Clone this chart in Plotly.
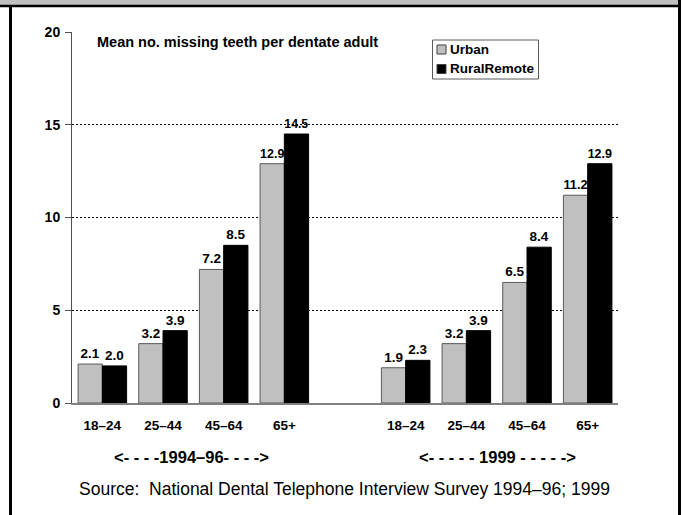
import plotly.graph_objects as go

# Mean number of missing teeth per dentate adult, by age group and location
age_groups = ["18–24", "25–44", "45–64", "65+"]
periods = ["1994–96", "1999"]
urban_1994_96 = [2.1, 3.2, 7.2, 12.9]
rural_1994_96 = [2.0, 3.9, 8.5, 14.5]
urban_1999 = [1.9, 3.2, 6.5, 11.2]
rural_1999 = [2.3, 3.9, 8.4, 12.9]
series_names = ["Urban", "RuralRemote"]
y_ticks = [0, 5, 10, 15, 20]

W, H = 685, 515
ML, MR, MT, MB = 72, 67, 32, 112
PW, PH = W - ML - MR, H - MT - MB

FONT = "Liberation Sans, Arial, sans-serif"
URBAN_FILL = "#c0c0c0"
RURAL_FILL = "#000000"

# numeric slots: first period at 0..3, one empty slot, second period at 5..8
n = len(age_groups)
x_pos = list(range(n)) + [n + 1 + i for i in range(n)]
urban_vals = urban_1994_96 + urban_1999
rural_vals = rural_1994_96 + rural_1999


def px(x):
    return (x - ML) / PW


def py(y):
    return (H - MB - y) / PH


label_font = dict(family=FONT, size=13.5, color="black", weight="bold")

fig = go.Figure()
fig.add_trace(go.Bar(
    x=x_pos, y=urban_vals, name=series_names[0],
    marker=dict(color=URBAN_FILL, line=dict(color="#5a5a5a", width=1)),
    text=[f"{v:.1f}" for v in urban_vals], textposition="outside",
    textfont=label_font, cliponaxis=False,
))
fig.add_trace(go.Bar(
    x=x_pos, y=rural_vals, name=series_names[1],
    marker=dict(color=RURAL_FILL, line=dict(color="black", width=1)),
    text=[f"{v:.1f}" for v in rural_vals], textposition="outside",
    textfont=label_font, cliponaxis=False,
))

shapes = []
annotations = []

# frame: grey band and rules along the top, vertical rules at the sides
shapes.append(dict(type="rect", xref="paper", yref="paper",
                   x0=px(0), x1=px(680), y0=py(0), y1=py(5),
                   fillcolor="#c0c0c0", line=dict(width=0), layer="below"))
shapes.append(dict(type="line", xref="paper", yref="paper",
                   x0=px(0), x1=px(681), y0=py(6), y1=py(6),
                   line=dict(color="black", width=2.5)))
shapes.append(dict(type="line", xref="paper", yref="paper",
                   x0=px(10.5), x1=px(10.5), y0=py(5), y1=py(H + 5),
                   line=dict(color="black", width=3)))
shapes.append(dict(type="line", xref="paper", yref="paper",
                   x0=px(679.5), x1=px(679.5), y0=py(0), y1=py(H + 5),
                   line=dict(color="black", width=3)))

# legend box
shapes.append(dict(type="rect", xref="paper", yref="paper",
                   x0=px(432.5), x1=px(538.5), y0=py(40), y1=py(79),
                   fillcolor="white", line=dict(color="#5a5a5a", width=1)))
for i, (name, fill) in enumerate(zip(series_names, [URBAN_FILL, RURAL_FILL])):
    cy = 49.5 + 19.5 * i
    shapes.append(dict(type="rect", xref="paper", yref="paper",
                       x0=px(437), x1=px(446), y0=py(cy - 4.5), y1=py(cy + 4.5),
                       fillcolor=fill, line=dict(color="#404040", width=1)))
    annotations.append(dict(xref="paper", yref="paper", x=px(447.5), y=py(cy),
                            xanchor="left", yanchor="middle", showarrow=False,
                            text=name,
                            font=dict(family=FONT, size=13.5, color="black",
                                      weight="bold")))

annotations.append(dict(xref="paper", yref="paper", x=px(95), y=py(42),
                        xanchor="left", yanchor="middle", showarrow=False,
                        text="Mean no. missing teeth per dentate adult",
                        font=dict(family=FONT, size=14.5, color="black",
                                  weight="bold")))

# period captions under each group of age bands
annotations.append(dict(xref="paper", yref="paper", x=px(191), y=py(457),
                        xanchor="center", yanchor="middle", showarrow=False,
                        text=f"<- - - -{periods[0]}- - - ->",
                        font=dict(family=FONT, size=16.5, color="black",
                                  weight="bold")))
annotations.append(dict(xref="paper", yref="paper", x=px(497), y=py(457),
                        xanchor="center", yanchor="middle", showarrow=False,
                        text=f"<- - - - - {periods[1]} - - - - ->",
                        font=dict(family=FONT, size=16.5, color="black",
                                  weight="bold")))

annotations.append(dict(xref="paper", yref="paper", x=px(344), y=py(489),
                        xanchor="center", yanchor="middle", showarrow=False,
                        text="Source:  National Dental Telephone Interview Survey 1994–96; 1999",
                        font=dict(family=FONT, size=17.5, color="black")))

fig.update_layout(
    width=W, height=H,
    margin=dict(l=ML, r=MR, t=MT, b=MB, pad=0),
    paper_bgcolor="white", plot_bgcolor="white",
    barmode="group", bargap=0.2, bargroupgap=0,
    showlegend=False,
    font=dict(family=FONT, color="black"),
    shapes=shapes, annotations=annotations,
    xaxis=dict(
        range=[-0.5, 2 * n + 0.5], tickvals=x_pos, ticktext=age_groups * 2,
        showgrid=False, zeroline=False, showline=True,
        linecolor="#808080", linewidth=1.5, ticks="",
        ticklabelstandoff=9,
        tickfont=dict(family=FONT, size=13.5, color="black", weight="bold"),
    ),
    yaxis=dict(
        range=[0, 20], tickvals=y_ticks,
        showgrid=True, gridcolor="black", griddash="2px,2px", gridwidth=1,
        zeroline=False, showline=True, linecolor="#505050", linewidth=1,
        ticks="outside", ticklen=6, tickcolor="#505050",
        ticklabelstandoff=2,
        tickfont=dict(family=FONT, size=14, color="black", weight="bold"),
    ),
)

fig.write_html("out.html")
